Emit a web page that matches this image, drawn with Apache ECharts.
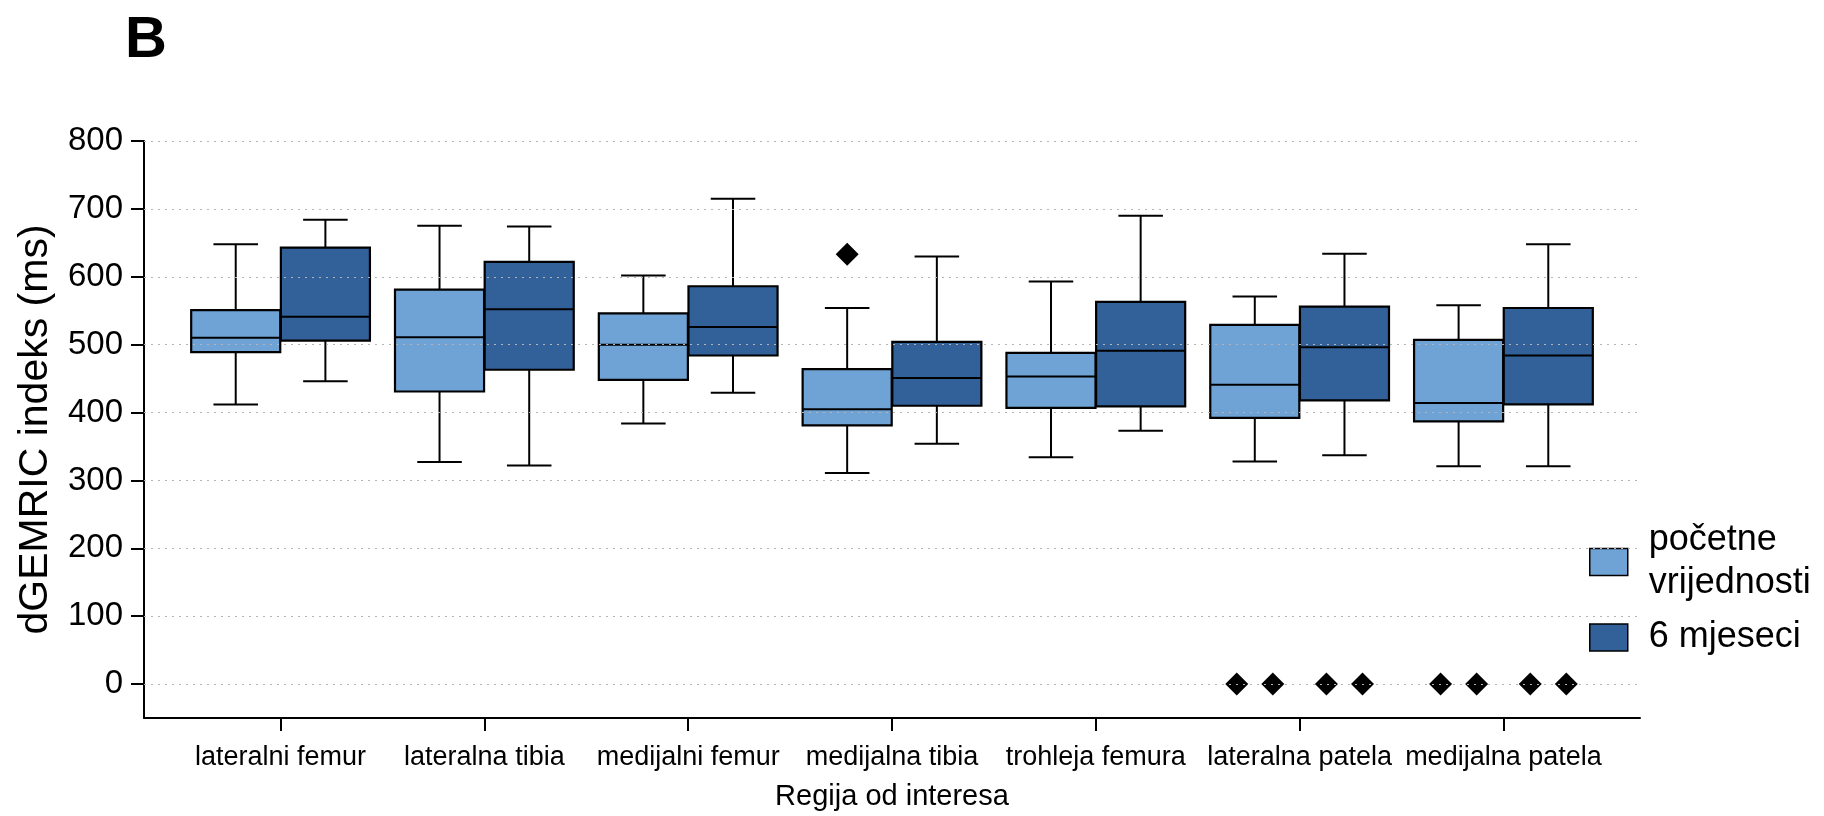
<!DOCTYPE html>
<html>
<head>
<meta charset="utf-8">
<script src="https://cdn.jsdelivr.net/npm/echarts@6/dist/echarts.min.js"></script>
<style>
html,body{margin:0;padding:0;background:#fff;}
#chart{width:1824px;height:816px;}
</style>
</head>
<body>
<div id="chart"></div>
<script>
// ---- data ----
const categories = ['lateralni femur','lateralna tibia','medijalni femur','medijalna tibia','trohleja femura','lateralna patela','medijalna patela'];
const seriesNames = ['početne\nvrijednosti', '6 mjeseci'];
// [min, Q1, median, Q3, max]
const baselineBoxes = [
  [412, 489, 510, 551, 648],
  [327, 431, 511, 581, 675],
  [384, 448, 500, 546, 602],
  [311, 381, 405, 464, 554],
  [334, 407, 453, 488, 593],
  [328, 392, 441, 529, 571],
  [321, 387, 414, 507, 558]
];
const sixMonthBoxes = [
  [446, 506, 541, 643, 684],
  [322, 463, 552, 622, 674],
  [429, 484, 526, 586, 715],
  [354, 410, 451, 504, 630],
  [373, 409, 491, 563, 690],
  [337, 418, 496, 556, 634],
  [321, 412, 484, 554, 648]
];
// outliers: category index, group (0 = baseline, 1 = 6 months), value
const outlierCategory = [3, 5, 5, 6, 6, 5, 5, 6, 6];
const outlierGroup    = [0, 0, 0, 0, 0, 1, 1, 1, 1];
const outlierValue    = [633, 0, 0, 0, 0, 0, 0, 0, 0];
const yTicks = [0, 100, 200, 300, 400, 500, 600, 700, 800];

// ---- styling constants ----
const LIGHT = '#6FA3D5';
const DARK = '#326098';
const FONT = '"Liberation Sans", Arial, Helvetica, sans-serif';
const GROUP_OFFSET = [-0.22, 0.22];
const BOX_W = 0.437;
const DODGE = 0.177;

function makeRender(offset, fill) {
  return function (params, api) {
    const x = api.value(0) + offset;
    const low = api.coord([x, api.value(1)]);
    const q1 = api.coord([x, api.value(2)]);
    const med = api.coord([x, api.value(3)]);
    const q3 = api.coord([x, api.value(4)]);
    const high = api.coord([x, api.value(5)]);
    const bw = api.size([BOX_W, 0])[0];
    const cx = low[0];
    const ls = {stroke: '#000', lineWidth: 2};
    return {type: 'group', children: [
      {type: 'line', shape: {x1: cx, y1: high[1], x2: cx, y2: q3[1]}, style: ls},
      {type: 'line', shape: {x1: cx, y1: q1[1], x2: cx, y2: low[1]}, style: ls},
      {type: 'line', shape: {x1: cx - bw / 4, y1: high[1], x2: cx + bw / 4, y2: high[1]}, style: ls},
      {type: 'line', shape: {x1: cx - bw / 4, y1: low[1], x2: cx + bw / 4, y2: low[1]}, style: ls},
      {type: 'rect', shape: {x: cx - bw / 2, y: q3[1], width: bw, height: q1[1] - q3[1]}, style: {fill: fill, stroke: '#000', lineWidth: 2.2}},
      {type: 'line', shape: {x1: cx - bw / 2, y1: med[1], x2: cx + bw / 2, y2: med[1]}, style: ls}
    ]};
  };
}

function boxData(boxes) {
  return boxes.map((b, i) => [i].concat(b));
}

// outlier placement: identical outliers in the same box are dodged side by side
const outlierPoints = [];
const groups = {};
outlierValue.forEach((v, k) => {
  const key = outlierCategory[k] + '_' + outlierGroup[k] + '_' + v;
  (groups[key] = groups[key] || []).push(k);
});
Object.keys(groups).forEach(key => {
  const idx = groups[key];
  idx.forEach((k, j) => {
    const x = outlierCategory[k] + GROUP_OFFSET[outlierGroup[k]] + (j - (idx.length - 1) / 2) * DODGE;
    outlierPoints.push([x, outlierValue[k]]);
  });
});

const chart = echarts.init(document.getElementById('chart'), null, {renderer: 'canvas'});
chart.setOption({
  animation: false,
  backgroundColor: '#fff',
  textStyle: {fontFamily: FONT},
  title: {
    text: 'B', left: 120, top: 7,
    textStyle: {fontFamily: FONT, fontSize: 58, fontWeight: 'bold', color: '#000'}
  },
  legend: {
    orient: 'vertical', left: 1584, top: 514,
    data: seriesNames,
    icon: 'rect', itemWidth: 38, itemHeight: 27, itemGap: 11,
    itemStyle: {borderColor: '#000', borderWidth: 1.5},
    textStyle: {fontFamily: FONT, fontSize: 36, lineHeight: 43, color: '#000', padding: [0, 0, 0, 16]}
  },
  grid: {left: 144, right: 184, top: 141, bottom: 95, containLabel: false},
  xAxis: {
    type: 'value', min: -0.67, max: 6.67,
    name: 'Regija od interesa', nameLocation: 'middle', nameGap: 64,
    nameTextStyle: {fontFamily: FONT, fontSize: 29, color: '#000'},
    axisLine: {show: true, onZero: false, lineStyle: {color: '#000', width: 2}},
    axisTick: {show: true, length: 13, customValues: categories.map((c, i) => i), lineStyle: {color: '#000', width: 2}},
    axisLabel: {
      customValues: categories.map((c, i) => i),
      formatter: v => categories[Math.round(v)],
      fontFamily: FONT, fontSize: 27, color: '#000', margin: 26
    },
    splitLine: {show: false}
  },
  yAxis: {
    type: 'value', min: -50, max: 800,
    name: 'dGEMRIC indeks (ms)', nameLocation: 'middle', nameGap: 88,
    nameTextStyle: {fontFamily: FONT, fontSize: 41, color: '#000'},
    axisLine: {show: true, onZero: false, lineStyle: {color: '#000', width: 2}},
    axisTick: {show: true, length: 13, customValues: yTicks, lineStyle: {color: '#000', width: 2}},
    axisLabel: {customValues: yTicks, fontFamily: FONT, fontSize: 33, color: '#000', margin: 21},
    splitLine: {show: false}
  },
  series: [
    {
      name: 'grid', type: 'line', data: [], silent: true, z: 0,
      markLine: {
        silent: true, symbol: ['none', 'none'], animation: false,
        label: {show: false},
        lineStyle: {color: '#b4b4b4', width: 1.2, type: [2, 5]},
        data: yTicks.map(v => ({yAxis: v}))
      }
    },
    {
      name: seriesNames[0], type: 'custom', z: 2,
      itemStyle: {color: LIGHT},
      renderItem: makeRender(GROUP_OFFSET[0], LIGHT),
      encode: {x: 0, y: [1, 2, 3, 4, 5]},
      data: boxData(baselineBoxes)
    },
    {
      name: seriesNames[1], type: 'custom', z: 2,
      itemStyle: {color: DARK},
      renderItem: makeRender(GROUP_OFFSET[1], DARK),
      encode: {x: 0, y: [1, 2, 3, 4, 5]},
      data: boxData(sixMonthBoxes)
    },
    {
      name: 'outliers', type: 'scatter', z: 3,
      symbol: 'diamond', symbolSize: 23,
      itemStyle: {color: '#000', opacity: 1},
      emphasis: {disabled: true},
      data: outlierPoints
    }
  ]
});
</script>
</body>
</html>
